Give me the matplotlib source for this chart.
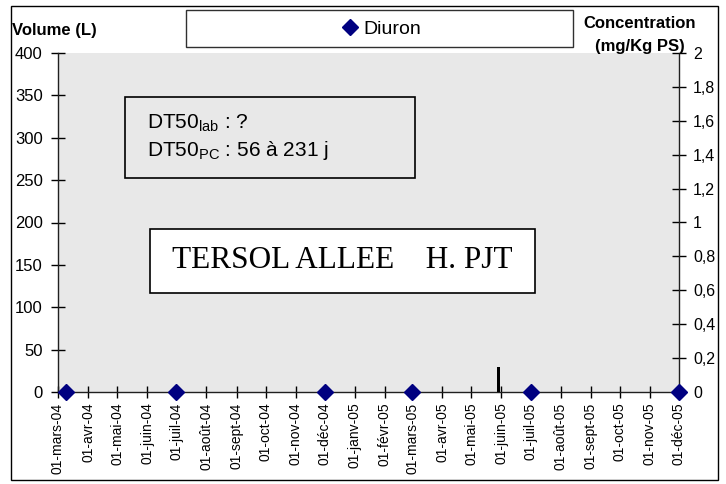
import matplotlib
matplotlib.use('Agg')
import matplotlib.pyplot as plt
import matplotlib.dates as mdates
from matplotlib.patches import Rectangle
import pandas as pd

plt.rcParams['font.family'] = ['Liberation Sans', 'DejaVu Sans']

# Diuron concentration in soil (mg/Kg PS)
diuron_dates = ['2004-03-09', '2004-07-01', '2004-12-01', '2005-03-01', '2005-07-01', '2005-12-01']
diuron_conc = [0, 0, 0, 0, 0, 0]

# Water volume (L)
volume_dates = ['2005-05-29']
volume_values = [30]

# Monthly tick labels (French)
month_ticks = pd.date_range('2004-03-01', '2005-12-01', freq='MS')
month_labels = ['01-mars-04', '01-avr-04', '01-mai-04', '01-juin-04', '01-juil-04', '01-août-04',
                '01-sept-04', '01-oct-04', '01-nov-04', '01-déc-04', '01-janv-05', '01-févr-05',
                '01-mars-05', '01-avr-05', '01-mai-05', '01-juin-05', '01-juil-05', '01-août-05',
                '01-sept-05', '01-oct-05', '01-nov-05', '01-déc-05']

vol_ticks = [0, 50, 100, 150, 200, 250, 300, 350, 400]
conc_ticks = [0, 0.2, 0.4, 0.6, 0.8, 1.0, 1.2, 1.4, 1.6, 1.8, 2.0]

W, H = 726, 484
fig = plt.figure(figsize=(W / 100, H / 100), dpi=100)


def fx(x):
    return x / W


def fy(y):
    return 1 - y / H


# outer frame
fig.patches.append(Rectangle((fx(11), fy(480)), fx(718) - fx(11), fy(6) - fy(480),
                             transform=fig.transFigure, fill=False, edgecolor='black', lw=1))

ax = fig.add_axes([fx(58), fy(392), fx(679) - fx(58), fy(53) - fy(392)])
ax.set_facecolor('#e8e8e8')
ax2 = ax.twinx()

# volume bars
ax.bar(pd.to_datetime(volume_dates), volume_values, width=4, color='black', zorder=3)
ax.set_ylim(0, 400)
ax.set_yticks(vol_ticks)
ax.set_xlim(mdates.date2num(pd.Timestamp('2004-03-01')), mdates.date2num(pd.Timestamp('2005-12-01')))
ax.set_xticks(mdates.date2num(month_ticks))
ax.set_xticklabels(month_labels, rotation=90, ha='center', va='top')

# concentration markers
ax2.plot(pd.to_datetime(diuron_dates), diuron_conc, linestyle='none', marker='D', markersize=8,
         color='#000080', clip_on=False, zorder=5, label='Diuron')
ax2.set_ylim(0, 2)
ax2.set_yticks(conc_ticks)
ax2.set_yticklabels([f'{v:g}'.replace('.', ',') for v in conc_ticks])

for a in (ax, ax2):
    a.spines['top'].set_visible(False)
    for s in a.spines.values():
        s.set_linewidth(1)
        s.set_color('#202020')
ax.spines['right'].set_visible(False)
ax2.spines['left'].set_visible(False)
ax2.spines['bottom'].set_visible(False)

ax.tick_params(axis='y', direction='inout', length=10, width=1, labelsize=12, pad=6)
ax.tick_params(axis='x', direction='inout', length=9, width=1, labelsize=10, pad=3)
ax2.tick_params(axis='y', direction='inout', length=10, width=1, labelsize=11.5, pad=5)

# axis titles
fig.text(fx(12), fy(30), 'Volume (L)', fontsize=12, fontweight='bold', ha='left', va='center')
fig.text(fx(640), fy(24), 'Concentration', fontsize=12, fontweight='bold', ha='center', va='center')
fig.text(fx(640), fy(46), '(mg/Kg PS)', fontsize=12, fontweight='bold', ha='center', va='center')

# legend frame
fig.patches.append(Rectangle((fx(186), fy(47)), fx(573) - fx(186), fy(10) - fy(47),
                             transform=fig.transFigure, facecolor='white', edgecolor='#303030', lw=1))
fig.legend(handles=ax2.get_lines(), loc='center', bbox_to_anchor=(fx(380), fy(29)),
           frameon=False, fontsize=14, handletextpad=0.1, handlelength=1.2,
           borderaxespad=0, borderpad=0)

# DT50 info box
fig.patches.append(Rectangle((fx(125), fy(178)), fx(415) - fx(125), fy(97) - fy(178),
                             transform=fig.transFigure, facecolor='#e8e8e8', edgecolor='black',
                             lw=1.2, zorder=4))
fig.text(fx(147), fy(123), 'DT50$_{\\mathregular{lab}}$ : ?', fontsize=15, ha='left', va='center',
         zorder=5)
fig.text(fx(147), fy(150), 'DT50$_{\\mathregular{PC}}$ : 56 à 231 j', fontsize=15, ha='left',
         va='center', zorder=5)

# site box
fig.patches.append(Rectangle((fx(150), fy(293)), fx(535) - fx(150), fy(229) - fy(293),
                             transform=fig.transFigure, facecolor='white', edgecolor='black',
                             lw=1.2, zorder=4))
fig.text(fx(342.5), fy(261), 'TERSOL ALLEE    H. PJT', fontsize=22.5, family='Liberation Serif',
         ha='center', va='center', zorder=5)

fig.savefig('out.png', dpi=100)
